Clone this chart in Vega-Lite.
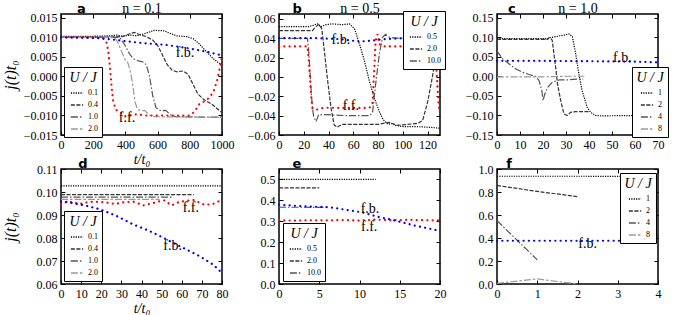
{
"$schema":"https://vega.github.io/schema/vega-lite/v6.json",
"background":"white",
"padding":{"left":1,"top":0,"right":0,"bottom":0},
"config":{
 "view":{"stroke":"black","strokeWidth":1.5},
 "axis":{"tickSize":-4,"labelPadding":8,"domain":false,"grid":false,"tickColor":"black","tickWidth":1,"labelFont":"Liberation Serif","labelFontSize":12,"labelColor":"black","labelFlush":false,"titleFont":"Liberation Serif","titleFontStyle":"italic","titleFontWeight":"normal","titleFontSize":16,"titleColor":"black","titlePadding":3},
 "axisBottom":{"titlePadding":2,"titleFontSize":14},
 "legend":{"titleFont":"Liberation Serif","titleFontStyle":"italic","titleFontWeight":"normal","titleFontSize":14,"titleColor":"black","titleAnchor":"middle","titlePadding":1,"labelFont":"Liberation Serif","labelFontSize":8,"labelColor":"black","symbolSize":150,"symbolStrokeWidth":1.3,"symbolType":"stroke","symbolOffset":2,"rowPadding":1,"padding":4,"strokeColor":"black","fillColor":"white","labelOffset":4,"cornerRadius":0},
 "title":{"font":"DejaVu Sans","fontSize":13,"fontWeight":"bold","color":"black","anchor":"start","frame":"group","baseline":"alphabetic","offset":-15}
},
"datasets":{
 "a":[
  {"s":"0.1","x":0,"y":0.0103},{"s":"0.1","x":100,"y":0.0103},{"s":"0.1","x":200,"y":0.0103},{"s":"0.1","x":300,"y":0.0104},{"s":"0.1","x":350,"y":0.0106},{"s":"0.1","x":380,"y":0.0103},{"s":"0.1","x":430,"y":0.0106},{"s":"0.1","x":470,"y":0.0104},{"s":"0.1","x":520,"y":0.0110},{"s":"0.1","x":580,"y":0.0118},{"s":"0.1","x":640,"y":0.0117},{"s":"0.1","x":680,"y":0.0110},{"s":"0.1","x":720,"y":0.0104},{"s":"0.1","x":780,"y":0.0102},{"s":"0.1","x":820,"y":0.0097},{"s":"0.1","x":860,"y":0.0083},{"s":"0.1","x":900,"y":0.0065},{"s":"0.1","x":940,"y":0.0048},{"s":"0.1","x":980,"y":0.0034},{"s":"0.1","x":1000,"y":0.0032},
  {"s":"0.4","x":0,"y":0.0101},{"s":"0.4","x":200,"y":0.0101},{"s":"0.4","x":300,"y":0.0101},{"s":"0.4","x":380,"y":0.0102},{"s":"0.4","x":420,"y":0.0108},{"s":"0.4","x":455,"y":0.0113},{"s":"0.4","x":490,"y":0.0107},{"s":"0.4","x":530,"y":0.0102},{"s":"0.4","x":570,"y":0.0093},{"s":"0.4","x":600,"y":0.0080},{"s":"0.4","x":630,"y":0.0055},{"s":"0.4","x":660,"y":0.0030},{"s":"0.4","x":690,"y":0.0016},{"s":"0.4","x":720,"y":0.0012},{"s":"0.4","x":760,"y":0.0014},{"s":"0.4","x":790,"y":0.0005},{"s":"0.4","x":820,"y":-0.0020},{"s":"0.4","x":850,"y":-0.0045},{"s":"0.4","x":890,"y":-0.0060},{"s":"0.4","x":940,"y":-0.0072},{"s":"0.4","x":1000,"y":-0.0093},
  {"s":"1.0","x":0,"y":0.0100},{"s":"1.0","x":200,"y":0.0100},{"s":"1.0","x":350,"y":0.0100},{"s":"1.0","x":370,"y":0.0097},{"s":"1.0","x":390,"y":0.0085},{"s":"1.0","x":410,"y":0.0070},{"s":"1.0","x":430,"y":0.0055},{"s":"1.0","x":450,"y":0.0045},{"s":"1.0","x":480,"y":0.0040},{"s":"1.0","x":510,"y":0.0037},{"s":"1.0","x":530,"y":0.0030},{"s":"1.0","x":550,"y":0.0000},{"s":"1.0","x":570,"y":-0.0050},{"s":"1.0","x":590,"y":-0.0080},{"s":"1.0","x":620,"y":-0.0088},{"s":"1.0","x":650,"y":-0.0087},{"s":"1.0","x":680,"y":-0.0098},{"s":"1.0","x":710,"y":-0.0103},{"s":"1.0","x":850,"y":-0.0104},{"s":"1.0","x":1000,"y":-0.0104},
  {"s":"2.0","x":0,"y":0.0100},{"s":"2.0","x":200,"y":0.0100},{"s":"2.0","x":330,"y":0.0100},{"s":"2.0","x":345,"y":0.0093},{"s":"2.0","x":360,"y":0.0080},{"s":"2.0","x":380,"y":0.0060},{"s":"2.0","x":400,"y":0.0042},{"s":"2.0","x":415,"y":0.0035},{"s":"2.0","x":430,"y":0.0015},{"s":"2.0","x":445,"y":-0.0020},{"s":"2.0","x":460,"y":-0.0065},{"s":"2.0","x":475,"y":-0.0085},{"s":"2.0","x":500,"y":-0.0088},{"s":"2.0","x":520,"y":-0.0087},{"s":"2.0","x":545,"y":-0.0098},{"s":"2.0","x":570,"y":-0.0103},{"s":"2.0","x":800,"y":-0.0104},{"s":"2.0","x":1000,"y":-0.0105},
  {"s":"ff","x":0,"y":0.0100},{"s":"ff","x":200,"y":0.0100},{"s":"ff","x":240,"y":0.0098},{"s":"ff","x":270,"y":0.0096},{"s":"ff","x":285,"y":0.0085},{"s":"ff","x":295,"y":0.0060},{"s":"ff","x":305,"y":0.0020},{"s":"ff","x":315,"y":-0.0030},{"s":"ff","x":325,"y":-0.0065},{"s":"ff","x":340,"y":-0.0085},{"s":"ff","x":360,"y":-0.0090},{"s":"ff","x":380,"y":-0.0095},{"s":"ff","x":400,"y":-0.0102},{"s":"ff","x":430,"y":-0.0100},{"s":"ff","x":470,"y":-0.0097},{"s":"ff","x":520,"y":-0.0100},{"s":"ff","x":650,"y":-0.0100},{"s":"ff","x":800,"y":-0.0100},{"s":"ff","x":830,"y":-0.0090},{"s":"ff","x":860,"y":-0.0070},{"s":"ff","x":900,"y":-0.0062},{"s":"ff","x":930,"y":-0.0050},{"s":"ff","x":950,"y":-0.0035},{"s":"ff","x":970,"y":-0.0010},{"s":"ff","x":985,"y":0.0020},{"s":"ff","x":1000,"y":0.0050},
  {"s":"fb","x":0,"y":0.0100},{"s":"fb","x":250,"y":0.0098},{"s":"fb","x":350,"y":0.0093},{"s":"fb","x":450,"y":0.0088},{"s":"fb","x":550,"y":0.0084},{"s":"fb","x":650,"y":0.0081},{"s":"fb","x":750,"y":0.0075},{"s":"fb","x":860,"y":0.0067},{"s":"fb","x":930,"y":0.0061},{"s":"fb","x":1000,"y":0.0054}
 ],
 "b":[
  {"s":"0.5","x":0,"y":0.052},{"s":"0.5","x":24,"y":0.052},{"s":"0.5","x":27,"y":0.053},{"s":"0.5","x":31,"y":0.0548},{"s":"0.5","x":34,"y":0.052},{"s":"0.5","x":38,"y":0.054},{"s":"0.5","x":43,"y":0.0548},{"s":"0.5","x":51,"y":0.054},{"s":"0.5","x":57,"y":0.0548},{"s":"0.5","x":61,"y":0.0496},{"s":"0.5","x":65,"y":0.034},{"s":"0.5","x":69,"y":0.0165},{"s":"0.5","x":73,"y":-0.0044},{"s":"0.5","x":77,"y":-0.022},{"s":"0.5","x":81,"y":-0.0357},{"s":"0.5","x":84,"y":-0.044},{"s":"0.5","x":88,"y":-0.049},{"s":"0.5","x":92,"y":-0.048},{"s":"0.5","x":94,"y":-0.050},{"s":"0.5","x":100,"y":-0.0513},{"s":"0.5","x":111,"y":-0.0513},{"s":"0.5","x":121,"y":-0.052},{"s":"0.5","x":130,"y":-0.053},
  {"s":"2.0","x":0,"y":0.0478},{"s":"2.0","x":27,"y":0.0478},{"s":"2.0","x":29,"y":0.051},{"s":"2.0","x":32,"y":0.054},{"s":"2.0","x":34.5,"y":0.050},{"s":"2.0","x":36,"y":0.034},{"s":"2.0","x":39,"y":-0.0009},{"s":"2.0","x":42,"y":-0.032},{"s":"2.0","x":44.5,"y":-0.0496},{"s":"2.0","x":47,"y":-0.052},{"s":"2.0","x":51,"y":-0.049},{"s":"2.0","x":70,"y":-0.049},{"s":"2.0","x":80,"y":-0.049},{"s":"2.0","x":89,"y":-0.047},{"s":"2.0","x":95,"y":-0.050},{"s":"2.0","x":100,"y":-0.0495},{"s":"2.0","x":112,"y":-0.048},{"s":"2.0","x":116,"y":-0.045},{"s":"2.0","x":120,"y":-0.026},{"s":"2.0","x":124,"y":0.001},{"s":"2.0","x":127,"y":0.025},{"s":"2.0","x":130,"y":0.040},
  {"s":"10.0","x":0,"y":0.0398},{"s":"10.0","x":23,"y":0.0398},{"s":"10.0","x":24,"y":0.027},{"s":"10.0","x":25.6,"y":-0.0078},{"s":"10.0","x":27,"y":-0.032},{"s":"10.0","x":28,"y":-0.041},{"s":"10.0","x":30,"y":-0.046},{"s":"10.0","x":32,"y":-0.039},{"s":"10.0","x":38,"y":-0.039},{"s":"10.0","x":54,"y":-0.040},{"s":"10.0","x":73,"y":-0.040},{"s":"10.0","x":75.5,"y":-0.037},{"s":"10.0","x":78,"y":-0.008},{"s":"10.0","x":81,"y":0.0235},{"s":"10.0","x":83.6,"y":0.041},{"s":"10.0","x":86,"y":0.044},{"s":"10.0","x":89,"y":0.041},{"s":"10.0","x":94,"y":0.040},{"s":"10.0","x":110,"y":0.040},{"s":"10.0","x":130,"y":0.040},
  {"s":"ff","x":0,"y":0.0315},{"s":"ff","x":23,"y":0.0315},{"s":"ff","x":24,"y":0.018},{"s":"ff","x":25,"y":0.0},{"s":"ff","x":26,"y":-0.02},{"s":"ff","x":27,"y":-0.032},{"s":"ff","x":30,"y":-0.034},{"s":"ff","x":35,"y":-0.0322},{"s":"ff","x":40,"y":-0.0318},{"s":"ff","x":50,"y":-0.032},{"s":"ff","x":60,"y":-0.032},{"s":"ff","x":73,"y":-0.032},{"s":"ff","x":75.5,"y":-0.027},{"s":"ff","x":77,"y":0.0096},{"s":"ff","x":78,"y":0.037},{"s":"ff","x":79.5,"y":0.044},{"s":"ff","x":81,"y":0.034},{"s":"ff","x":84,"y":0.0315},{"s":"ff","x":100,"y":0.0315},{"s":"ff","x":115,"y":0.0315},{"s":"ff","x":126,"y":0.031},{"s":"ff","x":127.5,"y":0.0},{"s":"ff","x":129,"y":-0.03},{"s":"ff","x":130,"y":-0.037},
  {"s":"fb","x":0,"y":0.040},{"s":"fb","x":30,"y":0.040},{"s":"fb","x":50,"y":0.039},{"s":"fb","x":65,"y":0.0365},{"s":"fb","x":75,"y":0.0375},{"s":"fb","x":85,"y":0.039},{"s":"fb","x":100,"y":0.040},{"s":"fb","x":130,"y":0.040}
 ],
 "c":[
  {"s":"1","x":0,"y":0.097},{"s":"1","x":22,"y":0.097},{"s":"1","x":22.7,"y":0.099},{"s":"1","x":25.5,"y":0.102},{"s":"1","x":30,"y":0.107},{"s":"1","x":31.3,"y":0.109},{"s":"1","x":32.8,"y":0.102},{"s":"1","x":34.2,"y":0.058},{"s":"1","x":35.6,"y":0.0064},{"s":"1","x":37,"y":-0.036},{"s":"1","x":39.2,"y":-0.079},{"s":"1","x":40.7,"y":-0.092},{"s":"1","x":42.9,"y":-0.100},{"s":"1","x":45.7,"y":-0.101},{"s":"1","x":60,"y":-0.100},{"s":"1","x":70,"y":-0.100},
  {"s":"2","x":0,"y":0.095},{"s":"2","x":22,"y":0.095},{"s":"2","x":22.7,"y":0.0995},{"s":"2","x":23.3,"y":0.098},{"s":"2","x":24,"y":0.093},{"s":"2","x":25.5,"y":0.0235},{"s":"2","x":26.3,"y":-0.019},{"s":"2","x":27.7,"y":-0.062},{"s":"2","x":29.1,"y":-0.096},{"s":"2","x":30.6,"y":-0.100},{"s":"2","x":32,"y":-0.092},{"s":"2","x":34.2,"y":-0.090},{"s":"2","x":40,"y":-0.090},
  {"s":"4","x":0,"y":0.065},{"s":"4","x":2.5,"y":0.045},{"s":"4","x":5.3,"y":0.032},{"s":"4","x":8.2,"y":0.019},{"s":"4","x":11,"y":0.011},{"s":"4","x":14,"y":0.005},{"s":"4","x":16.9,"y":0.0},{"s":"4","x":18.3,"y":-0.011},{"s":"4","x":19.5,"y":-0.036},{"s":"4","x":20,"y":-0.062},{"s":"4","x":20.8,"y":-0.045},{"s":"4","x":22,"y":-0.028},{"s":"4","x":24,"y":-0.015},{"s":"4","x":27,"y":-0.009},{"s":"4","x":30,"y":-0.009},{"s":"4","x":35.6,"y":-0.0064},{"s":"4","x":37.5,"y":-0.006},
  {"s":"8","x":0,"y":-0.001},{"s":"8","x":10,"y":-0.001},{"s":"8","x":20,"y":-0.001},{"s":"8","x":30,"y":0.0005},{"s":"8","x":38,"y":0.0005},
  {"s":"fb","x":0,"y":0.040},{"s":"fb","x":20,"y":0.040},{"s":"fb","x":40,"y":0.039},{"s":"fb","x":60,"y":0.038},{"s":"fb","x":70,"y":0.036}
 ],
 "d":[
  {"s":"0.1","x":0,"y":0.1027},{"s":"0.1","x":40,"y":0.1027},{"s":"0.1","x":80,"y":0.1027},
  {"s":"0.4","x":0,"y":0.0989},{"s":"0.4","x":33,"y":0.0989},{"s":"0.4","x":66,"y":0.0989},
  {"s":"1.0","x":0,"y":0.0978},{"s":"1.0","x":28,"y":0.0978},{"s":"1.0","x":56,"y":0.0978},
  {"s":"2.0","x":0,"y":0.0968},{"s":"2.0","x":25,"y":0.0968},{"s":"2.0","x":49,"y":0.0968},
  {"s":"ff","x":0,"y":0.0945},{"s":"ff","x":3,"y":0.0958},{"s":"ff","x":6,"y":0.0955},{"s":"ff","x":9,"y":0.0948},{"s":"ff","x":13,"y":0.0955},{"s":"ff","x":17,"y":0.0958},{"s":"ff","x":22,"y":0.0955},{"s":"ff","x":27,"y":0.0948},{"s":"ff","x":31,"y":0.0955},{"s":"ff","x":36,"y":0.0958},{"s":"ff","x":41,"y":0.0942},{"s":"ff","x":46,"y":0.0952},{"s":"ff","x":51,"y":0.0965},{"s":"ff","x":55,"y":0.0942},{"s":"ff","x":59,"y":0.0958},{"s":"ff","x":63,"y":0.0962},{"s":"ff","x":66,"y":0.0965},{"s":"ff","x":71,"y":0.0945},{"s":"ff","x":75,"y":0.0946},{"s":"ff","x":78,"y":0.0958},{"s":"ff","x":80,"y":0.0968},
  {"s":"fb","x":0,"y":0.0958},{"s":"fb","x":2.8,"y":0.0957},{"s":"fb","x":12.7,"y":0.094},{"s":"fb","x":19.3,"y":0.0925},{"s":"fb","x":27.6,"y":0.0896},{"s":"fb","x":35.9,"y":0.0859},{"s":"fb","x":44.1,"y":0.083},{"s":"fb","x":52.4,"y":0.0794},{"s":"fb","x":60.7,"y":0.0757},{"s":"fb","x":68.9,"y":0.0721},{"s":"fb","x":75.5,"y":0.0685},{"s":"fb","x":80,"y":0.0648}
 ],
 "e":[
  {"s":"0.5","x":0,"y":0.50},{"s":"0.5","x":6,"y":0.50},{"s":"0.5","x":12,"y":0.50},
  {"s":"2.0","x":0,"y":0.46},{"s":"2.0","x":2.5,"y":0.46},{"s":"2.0","x":5,"y":0.46},
  {"s":"10.0","x":0,"y":0.367},{"s":"10.0","x":3,"y":0.367},{"s":"10.0","x":6,"y":0.366},
  {"s":"ff","x":0,"y":0.305},{"s":"ff","x":2,"y":0.303},{"s":"ff","x":4,"y":0.305},{"s":"ff","x":6,"y":0.304},{"s":"ff","x":8,"y":0.306},{"s":"ff","x":10,"y":0.303},{"s":"ff","x":12,"y":0.308},{"s":"ff","x":14,"y":0.305},{"s":"ff","x":16,"y":0.307},{"s":"ff","x":18,"y":0.305},{"s":"ff","x":20,"y":0.304},
  {"s":"fb","x":0,"y":0.379},{"s":"fb","x":2.1,"y":0.374},{"s":"fb","x":4.2,"y":0.370},{"s":"fb","x":6.3,"y":0.367},{"s":"fb","x":8.3,"y":0.355},{"s":"fb","x":10.4,"y":0.342},{"s":"fb","x":12.1,"y":0.323},{"s":"fb","x":13.7,"y":0.310},{"s":"fb","x":15.4,"y":0.294},{"s":"fb","x":17,"y":0.278},{"s":"fb","x":18.7,"y":0.265},{"s":"fb","x":20,"y":0.254}
 ],
 "f":[
  {"s":"1","x":0,"y":0.937},{"s":"1","x":2,"y":0.937},{"s":"1","x":4,"y":0.935},
  {"s":"2","x":0,"y":0.857},{"s":"2","x":1,"y":0.805},{"s":"2","x":2,"y":0.760},
  {"s":"4","x":0,"y":0.551},{"s":"4","x":1,"y":0.21},
  {"s":"8","x":0,"y":0.005},{"s":"8","x":1,"y":0.044},{"s":"8","x":2,"y":0.0},
  {"s":"fb","x":0,"y":0.376},{"s":"fb","x":1,"y":0.376},{"s":"fb","x":2,"y":0.376},{"s":"fb","x":3,"y":0.376},{"s":"fb","x":4,"y":0.376}
 ],
 "lab":[
  {"p":"a","x":770,"y":0.0061,"t":"f.b."},{"p":"a","x":410,"y":-0.0106,"t":"f.f."},
  {"p":"b","x":50,"y":0.0385,"t":"f.b."},{"p":"b","x":58,"y":-0.0305,"t":"f.f."},
  {"p":"c","x":54.5,"y":0.047,"t":"f.b."},
  {"p":"d","x":64.5,"y":0.093,"t":"f.f."},{"p":"d","x":55.5,"y":0.0765,"t":"f.b."},
  {"p":"e","x":11.3,"y":0.358,"t":"f.b."},{"p":"e","x":11.2,"y":0.275,"t":"f.f."},
  {"p":"f","x":2.25,"y":0.345,"t":"f.b."}
 ]
},
"columns":3,
"bounds":"flush",
"spacing":{"row":34,"column":57},
"resolve":{"scale":{"color":"independent","strokeDash":"independent"},"legend":{"color":"independent","strokeDash":"independent"}},
"concat":[
 {"width":161,"height":121,"title":{"text":"a","dx":16},
  "layer":[
   {"data":{"name":"a"},"transform":[{"filter":{"field":"s","oneOf":["0.1","0.4","1.0","2.0"]}}],"mark":{"type":"line","strokeWidth":1.2},
    "encoding":{
     "x":{"field":"x","type":"quantitative","scale":{"domain":[0,1000],"nice":false,"zero":false},"axis":{"values":[0,200,400,600,800,1000],"format":"d","title":"t/t₀"}},
     "y":{"field":"y","type":"quantitative","scale":{"domain":[-0.015,0.016],"nice":false,"zero":false},"axis":{"values":[-0.015,-0.01,-0.005,0,0.005,0.01,0.015],"format":".3f","title":"j(t)t₀","minExtent":40,"maxExtent":40}},
     "color":{"field":"s","type":"nominal","scale":{"domain":["0.1","0.4","1.0","2.0"],"range":["#000000","#333333","#555555","#999999"]},"legend":{"title":"U / J","orient":"none","legendX":3,"legendY":53,"labelExpr":"datum.label + '\u00a0\u00a0\u00a0\u00a0\u00a0'"}},
     "strokeDash":{"field":"s","type":"nominal","scale":{"domain":["0.1","0.4","1.0","2.0"],"range":[[1.2,1.2],[4,1.5],[7,2,1.5,2],[7,2,2.5,2]]},"legend":{"title":"U / J","orient":"none","legendX":3,"legendY":53,"labelExpr":"datum.label + '\u00a0\u00a0\u00a0\u00a0\u00a0'"}}
    }},
   {"data":{"name":"a"},"transform":[{"filter":{"field":"s","equal":"ff"}}],"mark":{"type":"line","color":"#ff0000","strokeWidth":2.2,"strokeDash":[0.1,5.2],"strokeCap":"round"},"encoding":{"x":{"field":"x","type":"quantitative","axis":null},"y":{"field":"y","type":"quantitative","axis":null}}},
   {"data":{"name":"a"},"transform":[{"filter":{"field":"s","equal":"fb"}}],"mark":{"type":"line","color":"#0000ff","strokeWidth":2.2,"strokeDash":[0.1,5.2],"strokeCap":"round"},"encoding":{"x":{"field":"x","type":"quantitative","axis":null},"y":{"field":"y","type":"quantitative","axis":null}}},
   {"data":{"name":"lab"},"transform":[{"filter":{"field":"p","equal":"a"}}],"mark":{"type":"text","font":"Liberation Serif","fontSize":14,"color":"black"},"encoding":{"x":{"field":"x","type":"quantitative","axis":null},"y":{"field":"y","type":"quantitative","axis":null},"text":{"field":"t","type":"nominal"}}},
   {"data":{"name":"a"},"mark":{"type":"point","opacity":0},"encoding":{"x":{"field":"x","type":"quantitative","axis":{"orient":"top","values":[0,200,400,600,800,1000],"labels":false,"title":"n = 0.1","titleFont":"Liberation Serif","titleFontStyle":"normal","titleFontSize":14,"titleX":80.5,"titleY":-2,"titleAlign":"center","titleBaseline":"alphabetic"}},"y":{"field":"y","type":"quantitative","axis":{"orient":"right","values":[-0.015,-0.01,-0.005,0,0.005,0.01,0.015],"labels":false,"title":null}}}}
  ],
  "resolve":{"axis":{"x":"independent","y":"independent"}}},
 {"width":161,"height":121,"title":{"text":"b","dx":13.5},
  "layer":[
   {"data":{"name":"b"},"transform":[{"filter":{"field":"s","oneOf":["0.5","2.0","10.0"]}}],"mark":{"type":"line","strokeWidth":1.2},
    "encoding":{
     "x":{"field":"x","type":"quantitative","scale":{"domain":[0,130],"nice":false,"zero":false},"axis":{"values":[0,20,40,60,80,100,120],"format":"d","title":null}},
     "y":{"field":"y","type":"quantitative","scale":{"domain":[-0.06,0.065],"nice":false,"zero":false},"axis":{"values":[-0.06,-0.04,-0.02,0,0.02,0.04,0.06],"format":".2f","title":null}},
     "color":{"field":"s","type":"nominal","scale":{"domain":["0.5","2.0","10.0"],"range":["#000000","#333333","#555555"]},"legend":{"title":"U / J","orient":"none","legendX":124,"legendY":-3,"labelExpr":"datum.label + '\u00a0\u00a0\u00a0\u00a0\u00a0\u00a0\u00a0\u00a0\u00a0'"}},
     "strokeDash":{"field":"s","type":"nominal","scale":{"domain":["0.5","2.0","10.0"],"range":[[1.2,1.2],[4,1.5],[7,2,1.5,2]]},"legend":{"title":"U / J","orient":"none","legendX":124,"legendY":-3,"labelExpr":"datum.label + '\u00a0\u00a0\u00a0\u00a0\u00a0\u00a0\u00a0\u00a0\u00a0'"}}
    }},
   {"data":{"name":"b"},"transform":[{"filter":{"field":"s","equal":"ff"}}],"mark":{"type":"line","color":"#ff0000","strokeWidth":2.2,"strokeDash":[0.1,5.2],"strokeCap":"round"},"encoding":{"x":{"field":"x","type":"quantitative","axis":null},"y":{"field":"y","type":"quantitative","axis":null}}},
   {"data":{"name":"b"},"transform":[{"filter":{"field":"s","equal":"fb"}}],"mark":{"type":"line","color":"#0000ff","strokeWidth":2.2,"strokeDash":[0.1,5.2],"strokeCap":"round"},"encoding":{"x":{"field":"x","type":"quantitative","axis":null},"y":{"field":"y","type":"quantitative","axis":null}}},
   {"data":{"name":"lab"},"transform":[{"filter":{"field":"p","equal":"b"}}],"mark":{"type":"text","font":"Liberation Serif","fontSize":14,"color":"black"},"encoding":{"x":{"field":"x","type":"quantitative","axis":null},"y":{"field":"y","type":"quantitative","axis":null},"text":{"field":"t","type":"nominal"}}},
   {"data":{"name":"b"},"mark":{"type":"point","opacity":0},"encoding":{"x":{"field":"x","type":"quantitative","axis":{"orient":"top","values":[0,20,40,60,80,100,120],"labels":false,"title":"n = 0.5","titleFont":"Liberation Serif","titleFontStyle":"normal","titleFontSize":14,"titleX":80.5,"titleY":-2,"titleAlign":"center","titleBaseline":"alphabetic"}},"y":{"field":"y","type":"quantitative","axis":{"orient":"right","values":[-0.06,-0.04,-0.02,0,0.02,0.04,0.06],"labels":false,"title":null}}}}
  ],
  "resolve":{"axis":{"x":"independent","y":"independent"}}},
 {"width":161,"height":121,"title":{"text":"c","dx":11},
  "layer":[
   {"data":{"name":"c"},"transform":[{"filter":{"field":"s","oneOf":["1","2","4","8"]}}],"mark":{"type":"line","strokeWidth":1.2},
    "encoding":{
     "x":{"field":"x","type":"quantitative","scale":{"domain":[0,70],"nice":false,"zero":false},"axis":{"values":[0,10,20,30,40,50,60,70],"format":"d","title":null}},
     "y":{"field":"y","type":"quantitative","scale":{"domain":[-0.15,0.16],"nice":false,"zero":false},"axis":{"values":[-0.15,-0.1,-0.05,0,0.05,0.1,0.15],"format":".2f","title":null}},
     "color":{"field":"s","type":"nominal","scale":{"domain":["1","2","4","8"],"range":["#000000","#333333","#555555","#999999"]},"legend":{"title":"U / J","orient":"none","legendX":135,"legendY":53,"labelExpr":"datum.label + '\u00a0\u00a0\u00a0'"}},
     "strokeDash":{"field":"s","type":"nominal","scale":{"domain":["1","2","4","8"],"range":[[1.2,1.2],[4,1.5],[7,2,1.5,2],[7,2,2.5,2]]},"legend":{"title":"U / J","orient":"none","legendX":135,"legendY":53,"labelExpr":"datum.label + '\u00a0\u00a0\u00a0'"}}
    }},
   {"data":{"name":"c"},"transform":[{"filter":{"field":"s","equal":"fb"}}],"mark":{"type":"line","color":"#0000ff","strokeWidth":2.2,"strokeDash":[0.1,5.2],"strokeCap":"round"},"encoding":{"x":{"field":"x","type":"quantitative","axis":null},"y":{"field":"y","type":"quantitative","axis":null}}},
   {"data":{"name":"lab"},"transform":[{"filter":{"field":"p","equal":"c"}}],"mark":{"type":"text","font":"Liberation Serif","fontSize":14,"color":"black"},"encoding":{"x":{"field":"x","type":"quantitative","axis":null},"y":{"field":"y","type":"quantitative","axis":null},"text":{"field":"t","type":"nominal"}}},
   {"data":{"name":"c"},"mark":{"type":"point","opacity":0},"encoding":{"x":{"field":"x","type":"quantitative","axis":{"orient":"top","values":[0,10,20,30,40,50,60,70],"labels":false,"title":"n = 1.0","titleFont":"Liberation Serif","titleFontStyle":"normal","titleFontSize":14,"titleX":80.5,"titleY":-2,"titleAlign":"center","titleBaseline":"alphabetic"}},"y":{"field":"y","type":"quantitative","axis":{"orient":"right","values":[-0.15,-0.1,-0.05,0,0.05,0.1,0.15],"labels":false,"title":null}}}}
  ],
  "resolve":{"axis":{"x":"independent","y":"independent"}}},
 {"width":161,"height":115,
  "layer":[
   {"data":{"name":"d"},"transform":[{"filter":{"field":"s","oneOf":["0.1","0.4","1.0","2.0"]}}],"mark":{"type":"line","strokeWidth":1.2},
    "encoding":{
     "x":{"field":"x","type":"quantitative","scale":{"domain":[0,80],"nice":false,"zero":false},"axis":{"values":[0,10,20,30,40,50,60,70,80],"format":"d","title":"t/t₀"}},
     "y":{"field":"y","type":"quantitative","scale":{"domain":[0.06,0.11],"nice":false,"zero":false},"axis":{"values":[0.06,0.07,0.08,0.09,0.1,0.11],"format":".2f","title":"j(t)t₀","minExtent":40,"maxExtent":40}},
     "color":{"field":"s","type":"nominal","scale":{"domain":["0.1","0.4","1.0","2.0"],"range":["#000000","#333333","#555555","#999999"]},"legend":{"title":"U / J","orient":"none","legendX":3,"legendY":42,"labelExpr":"datum.label + '\u00a0\u00a0\u00a0\u00a0\u00a0'"}},
     "strokeDash":{"field":"s","type":"nominal","scale":{"domain":["0.1","0.4","1.0","2.0"],"range":[[1.2,1.2],[4,1.5],[7,2,1.5,2],[7,2,2.5,2]]},"legend":{"title":"U / J","orient":"none","legendX":3,"legendY":42,"labelExpr":"datum.label + '\u00a0\u00a0\u00a0\u00a0\u00a0'"}}
    }},
   {"data":{"name":"d"},"transform":[{"filter":{"field":"s","equal":"ff"}}],"mark":{"type":"line","color":"#ff0000","strokeWidth":2.2,"strokeDash":[0.1,5.2],"strokeCap":"round"},"encoding":{"x":{"field":"x","type":"quantitative","axis":null},"y":{"field":"y","type":"quantitative","axis":null}}},
   {"data":{"name":"d"},"transform":[{"filter":{"field":"s","equal":"fb"}}],"mark":{"type":"line","color":"#0000ff","strokeWidth":2.2,"strokeDash":[0.1,5.2],"strokeCap":"round"},"encoding":{"x":{"field":"x","type":"quantitative","axis":null},"y":{"field":"y","type":"quantitative","axis":null}}},
   {"data":{"name":"lab"},"transform":[{"filter":{"field":"p","equal":"d"}}],"mark":{"type":"text","font":"Liberation Serif","fontSize":14,"color":"black"},"encoding":{"x":{"field":"x","type":"quantitative","axis":null},"y":{"field":"y","type":"quantitative","axis":null},"text":{"field":"t","type":"nominal"}}},
   {"data":{"name":"d"},"mark":{"type":"point","opacity":0},"encoding":{"x":{"field":"x","type":"quantitative","axis":{"orient":"top","values":[0,10,20,30,40,50,60,70,80],"labels":false,"title":"d","titleFont":"DejaVu Sans","titleFontWeight":"bold","titleFontStyle":"normal","titleFontSize":13,"titleX":21.5,"titleY":-2,"titleAlign":"center","titleBaseline":"alphabetic"}},"y":{"field":"y","type":"quantitative","axis":{"orient":"right","values":[0.06,0.07,0.08,0.09,0.1,0.11],"labels":false,"title":null}}}}
  ],
  "resolve":{"axis":{"x":"independent","y":"independent"}}},
 {"width":161,"height":115,
  "layer":[
   {"data":{"name":"e"},"transform":[{"filter":{"field":"s","oneOf":["0.5","2.0","10.0"]}}],"mark":{"type":"line","strokeWidth":1.2},
    "encoding":{
     "x":{"field":"x","type":"quantitative","scale":{"domain":[0,20],"nice":false,"zero":false},"axis":{"values":[0,5,10,15,20],"format":"d","title":null}},
     "y":{"field":"y","type":"quantitative","scale":{"domain":[0,0.55],"nice":false,"zero":false},"axis":{"values":[0,0.1,0.2,0.3,0.4,0.5],"format":".1f","title":null}},
     "color":{"field":"s","type":"nominal","scale":{"domain":["0.5","2.0","10.0"],"range":["#000000","#333333","#555555"]},"legend":{"title":"U / J","orient":"none","legendX":4,"legendY":54,"labelExpr":"datum.label + '\u00a0\u00a0\u00a0\u00a0\u00a0\u00a0'"}},
     "strokeDash":{"field":"s","type":"nominal","scale":{"domain":["0.5","2.0","10.0"],"range":[[1.2,1.2],[4,1.5],[7,2,1.5,2]]},"legend":{"title":"U / J","orient":"none","legendX":4,"legendY":54,"labelExpr":"datum.label + '\u00a0\u00a0\u00a0\u00a0\u00a0\u00a0'"}}
    }},
   {"data":{"name":"e"},"transform":[{"filter":{"field":"s","equal":"ff"}}],"mark":{"type":"line","color":"#ff0000","strokeWidth":2.2,"strokeDash":[0.1,5.2],"strokeCap":"round"},"encoding":{"x":{"field":"x","type":"quantitative","axis":null},"y":{"field":"y","type":"quantitative","axis":null}}},
   {"data":{"name":"e"},"transform":[{"filter":{"field":"s","equal":"fb"}}],"mark":{"type":"line","color":"#0000ff","strokeWidth":2.2,"strokeDash":[0.1,5.2],"strokeCap":"round"},"encoding":{"x":{"field":"x","type":"quantitative","axis":null},"y":{"field":"y","type":"quantitative","axis":null}}},
   {"data":{"name":"lab"},"transform":[{"filter":{"field":"p","equal":"e"}}],"mark":{"type":"text","font":"Liberation Serif","fontSize":14,"color":"black"},"encoding":{"x":{"field":"x","type":"quantitative","axis":null},"y":{"field":"y","type":"quantitative","axis":null},"text":{"field":"t","type":"nominal"}}},
   {"data":{"name":"e"},"mark":{"type":"point","opacity":0},"encoding":{"x":{"field":"x","type":"quantitative","axis":{"orient":"top","values":[0,5,10,15,20],"labels":false,"title":"e","titleFont":"DejaVu Sans","titleFontWeight":"bold","titleFontStyle":"normal","titleFontSize":13,"titleX":17.5,"titleY":-2,"titleAlign":"center","titleBaseline":"alphabetic"}},"y":{"field":"y","type":"quantitative","axis":{"orient":"right","values":[0,0.1,0.2,0.3,0.4,0.5],"labels":false,"title":null}}}}
  ],
  "resolve":{"axis":{"x":"independent","y":"independent"}}},
 {"width":161,"height":115,
  "layer":[
   {"data":{"name":"f"},"transform":[{"filter":{"field":"s","oneOf":["1","2","4","8"]}}],"mark":{"type":"line","strokeWidth":1.2},
    "encoding":{
     "x":{"field":"x","type":"quantitative","scale":{"domain":[0,4],"nice":false,"zero":false},"axis":{"values":[0,1,2,3,4],"format":"d","title":null}},
     "y":{"field":"y","type":"quantitative","scale":{"domain":[0,1],"nice":false,"zero":false},"axis":{"values":[0,0.2,0.4,0.6,0.8,1],"format":".1f","title":null}},
     "color":{"field":"s","type":"nominal","scale":{"domain":["1","2","4","8"],"range":["#000000","#333333","#555555","#999999"]},"legend":{"title":"U / J","orient":"none","legendX":123,"legendY":4,"labelExpr":"datum.label + '\u00a0\u00a0\u00a0'"}},
     "strokeDash":{"field":"s","type":"nominal","scale":{"domain":["1","2","4","8"],"range":[[1.2,1.2],[4,1.5],[7,2,1.5,2],[7,2,2.5,2]]},"legend":{"title":"U / J","orient":"none","legendX":123,"legendY":4,"labelExpr":"datum.label + '\u00a0\u00a0\u00a0'"}}
    }},
   {"data":{"name":"f"},"transform":[{"filter":{"field":"s","equal":"fb"}}],"mark":{"type":"line","color":"#0000ff","strokeWidth":2.2,"strokeDash":[0.1,5.2],"strokeCap":"round"},"encoding":{"x":{"field":"x","type":"quantitative","axis":null},"y":{"field":"y","type":"quantitative","axis":null}}},
   {"data":{"name":"lab"},"transform":[{"filter":{"field":"p","equal":"f"}}],"mark":{"type":"text","font":"Liberation Serif","fontSize":14,"color":"black"},"encoding":{"x":{"field":"x","type":"quantitative","axis":null},"y":{"field":"y","type":"quantitative","axis":null},"text":{"field":"t","type":"nominal"}}},
   {"data":{"name":"f"},"mark":{"type":"point","opacity":0},"encoding":{"x":{"field":"x","type":"quantitative","axis":{"orient":"top","values":[0,1,2,3,4],"labels":false,"title":"f","titleFont":"DejaVu Sans","titleFontWeight":"bold","titleFontStyle":"normal","titleFontSize":13,"titleX":11.5,"titleY":-2,"titleAlign":"center","titleBaseline":"alphabetic"}},"y":{"field":"y","type":"quantitative","axis":{"orient":"right","values":[0,0.2,0.4,0.6,0.8,1],"labels":false,"title":null}}}}
  ],
  "resolve":{"axis":{"x":"independent","y":"independent"}}}
]
}
